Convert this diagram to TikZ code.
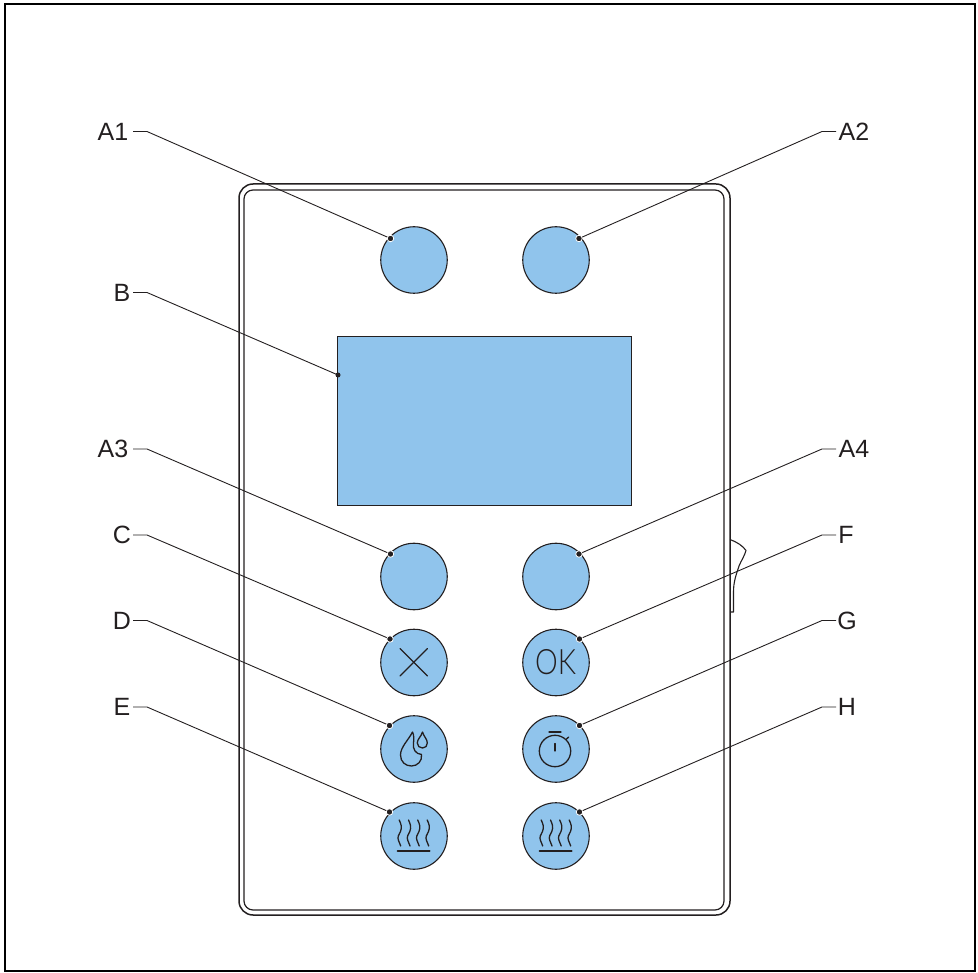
\documentclass[tikz,border=0pt]{standalone}
\usepackage{fontspec}
\setmainfont{Liberation Sans}
\newfontfamily\lightfont{Lato Light}
\definecolor{keyblue}{RGB}{144,196,236}
\definecolor{ink}{RGB}{35,31,32}
\tikzset{
  lbl/.style={font=\fontsize{25}{25}\selectfont,text=ink,inner sep=0pt,anchor=center},
  key/.style={circle,draw=ink,line width=1.1pt,fill=keyblue,minimum size=66.5pt,inner sep=0pt},
  leader/.style={draw=ink,line width=0.9pt},
  tip/.style={circle,fill=ink,draw=white,line width=0.8pt,minimum size=6.5pt,inner sep=0pt},
  icon/.style={draw=ink,line width=1.3pt,line cap=round,line join=round},
  panel/.style={draw=ink,line width=1.5pt,fill=none}
}
\newcommand{\heaticon}[1]{%
  \foreach \dx in {-14.5,-5.2,4,13.5}{
    \draw[icon,shift={(#1)},xshift=\dx pt]
      (-0.3,-16) .. controls (1.5,-12) and (2.8,-9) .. (1,-4.5)
      .. controls (-0.5,-1.5) and (-2.5,1) .. (-1,4.5)
      .. controls (-0.3,6.5) and (0.7,8) .. (1.2,10);
  }
  \draw[icon,shift={(#1)},line width=1.6pt] (-16.5,14.7) -- (15.7,14.7);
}
\begin{document}
\begin{tikzpicture}[x=1pt,y=-1pt]
\useasboundingbox (0,0) rectangle (978,973);
\draw[line width=2.2pt,draw=black] (5.2,3.7) rectangle (974.7,971);
% panel
\draw[panel,rounded corners=14pt] (239,184) rectangle (730,915);
\draw[panel,line width=1.2pt,rounded corners=9pt] (244,190) rectangle (724,910);
% side lever
\draw[draw=ink,line width=1.1pt,line join=round] (730,539.5) .. controls (737,542) and (743,546) .. (746,550.5) .. controls (745,555) and (741,561) .. (739,566) .. controls (736,575) and (733.5,582) .. (733.5,592) -- (733.5,612) -- (730,612);
% screen
\node[draw=ink,line width=0.9pt,fill=keyblue,minimum width=294pt,minimum height=169pt,inner sep=0pt] (screen) at (484,420.5) {};
% keys
\node[key] (k1) at (414,260) {};
\node[key] (k2) at (556,260) {};
\node[key] (k3) at (414,576.5) {};
\node[key] (k4) at (556,576.5) {};
\node[key] (kc) at (414,662.5) {};
\node[key] (kf) at (556,662.5) {};
\node[key] (kd) at (414,749) {};
\node[key] (kg) at (556,749) {};
\node[key] (ke) at (414,836) {};
\node[key] (kh) at (556,836) {};
% icons
\draw[icon] (400,648.5) -- (427.5,676);
\draw[icon] (427.5,648.5) -- (400,676);
\node[inner sep=0pt,text=ink,font=\lightfont\fontsize{35}{35}\selectfont] (oktext) at (555.5,662.5) {\scalebox{.82}[1]{OK}};
% drops
\draw[icon,shift={(413.5,749)}] (-1,-17) .. controls (-5,-9) and (-13,-2) .. (-13,6)
  .. controls (-13,13) and (-8,17) .. (-2,17) .. controls (4,17) and (9,12) .. (8,5.5)
  .. controls (2,5) and (-1,0) .. (0,-6) .. controls (0.5,-10) and (0.5,-14) .. (-1,-17) -- cycle;
\draw[icon,shift={(413.5,749)}] (9,-17) .. controls (7.5,-12) and (3.8,-10) .. (3.8,-6)
  .. controls (3.8,-3) and (6,-1) .. (9,-1) .. controls (12,-1) and (13.8,-3) .. (13.8,-6)
  .. controls (13.8,-10) and (10.5,-12) .. (9,-17) -- cycle;
% timer
\draw[icon] (555,751) circle[radius=15.7];
\draw[icon] (549,732) -- (561,732);
\draw[icon] (555,743.5) -- (555,751);
\draw[icon] (566,739.5) -- (568.7,737);
% heat
\heaticon{414,836}
\heaticon{556,836}
% leader ends
\coordinate (a1e) at (390.5,238.5);
\coordinate (a2e) at (579,238.5);
\coordinate (be) at (338,375);
\coordinate (a3e) at (390.5,554);
\coordinate (a4e) at (579,554);
\coordinate (ce) at (390,639);
\coordinate (fe) at (579.5,639);
\coordinate (de) at (389.5,725.5);
\coordinate (ge) at (579.5,725.5);
\coordinate (ee) at (389.5,812);
\coordinate (he) at (579.5,812);
% labels
\node[lbl] (A1) at (113,131.5) {A1};
\node[lbl] (A2) at (854,131.5) {A2};
\node[lbl] (B) at (122,292.5) {B};
\node[lbl] (A3) at (113,449) {A3};
\node[lbl] (A4) at (854,449) {A4};
\node[lbl] (C) at (122,535) {C};
\node[lbl] (F) at (846,535) {F};
\node[lbl] (D) at (122,620.5) {D};
\node[lbl] (G) at (847,620.5) {G};
\node[lbl] (E) at (122,707) {E};
\node[lbl] (H) at (847,707) {H};
% leaders
\foreach \lab/\en/\st in {A1/a1e/133,B/be/133,A3/a3e/133,C/ce/133,D/de/133,E/ee/133}{
  \draw[leader] (\lab.east -| \st,0) -- ++(14,0) -- (\en);
}
\foreach \lab/\en in {A2/a2e,A4/a4e,F/fe,G/ge,H/he}{
  \draw[leader] (\lab.west -| 836,0) -- ++(-14,0) -- (\en);
}
\foreach \en in {a1e,a2e,a3e,a4e,ce,fe,de,ge,ee,he}{
  \node[tip] at (\en) {};
}
\node[tip,draw=none,minimum size=5pt] at (be) {};
\end{tikzpicture}
\end{document}
